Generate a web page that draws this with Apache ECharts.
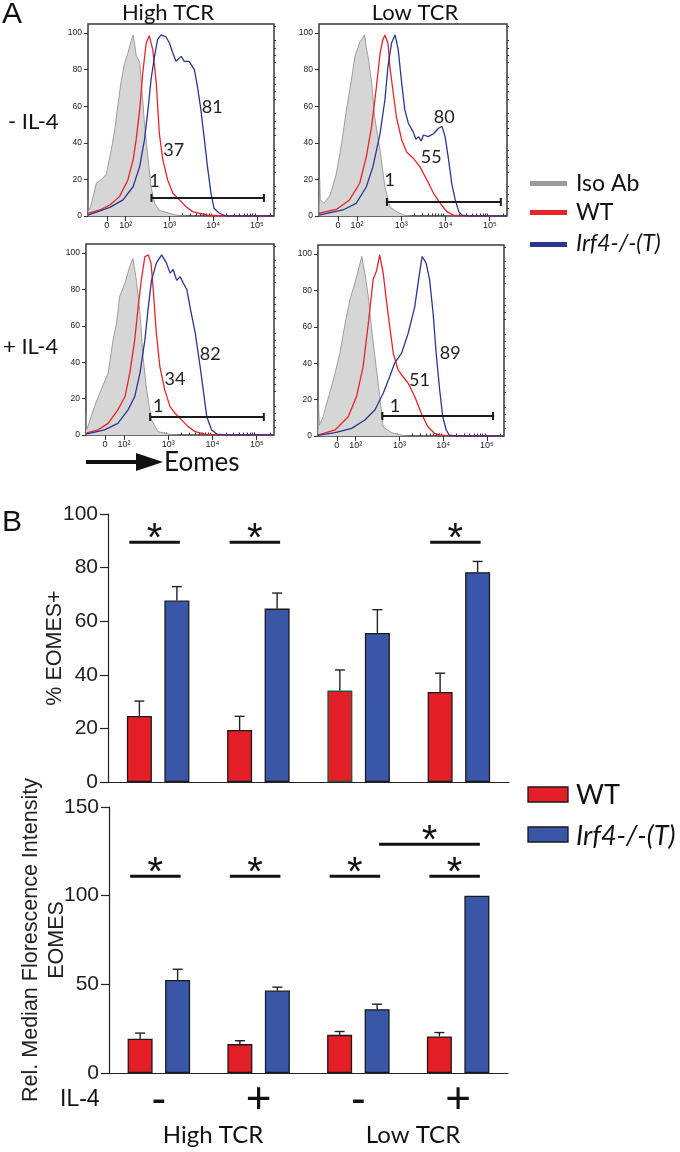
<!DOCTYPE html>
<html>
<head>
<meta charset="utf-8">
<script src="https://cdn.jsdelivr.net/npm/echarts@6/dist/echarts.min.js"></script>
<style>html,body{margin:0;background:#fff}#main{width:680px;height:1152px}</style>
</head>
<body>
<div id="main"></div>
<script>
var chartDom = document.getElementById('main');
var myChart = echarts.init(chartDom);

// ---- Panel A: Eomes histograms, x = display position in decades (0 at 1.57), y = % of max
var isoHighMinus = [[1.14,9],[1.15,3],[1.2,5],[1.27,12],[1.33,18],[1.45,20],[1.56,23],[1.67,36],[1.75,47],[1.83,62],[1.9,74],[1.98,84],[2.05,89],[2.13,96],[2.17,99],[2.2,95],[2.24,88],[2.32,84],[2.36,73],[2.43,51],[2.51,32],[2.58,16],[2.66,7],[2.77,3],[3.0,1.5],[3.2,0.3],[3.4,0]];
var wtHighMinus = [[1.14,1.5],[1.41,3.3],[1.64,6],[1.86,10.6],[2.05,19.7],[2.17,30.7],[2.24,41.6],[2.32,58],[2.39,78],[2.47,94.6],[2.54,98.6],[2.62,91],[2.7,72.7],[2.77,45],[2.85,30.7],[2.96,19.7],[3.08,12.4],[3.23,8.8],[3.38,5.1],[3.53,2.4],[3.68,1.5],[3.91,0.4],[4.2,0],[5.39,0]];
var koHighMinus = [[1.14,0.5],[1.64,4.7],[1.94,8.8],[2.17,16],[2.32,27],[2.43,41.6],[2.51,58],[2.58,74.5],[2.66,87.3],[2.73,96.4],[2.81,99],[2.92,98],[3.0,94.6],[3.08,89],[3.15,84.6],[3.27,87.3],[3.34,84.6],[3.45,84.6],[3.57,80],[3.64,71],[3.72,58],[3.8,41.6],[3.87,27],[3.95,12.4],[4.02,4.2],[4.14,1.5],[4.3,0],[5.39,0]];

var isoLowMinus = [[1.14,2],[1.155,20],[1.17,9],[1.25,7],[1.38,11],[1.45,16],[1.53,23],[1.64,38],[1.76,58],[1.87,74],[1.95,87],[2.06,95],[2.12,97],[2.17,99],[2.21,92],[2.25,87],[2.33,73],[2.4,54],[2.52,36],[2.63,16],[2.74,5],[2.89,2.4],[3.05,0.5],[3.2,0]];
var wtLowMinus = [[1.14,1.5],[1.53,3.6],[1.83,8.8],[2.06,17.9],[2.21,32.5],[2.33,49],[2.44,71],[2.52,89],[2.58,96],[2.63,99],[2.7,94.5],[2.74,82],[2.82,67],[2.89,54],[3.01,41.6],[3.12,35],[3.27,31.6],[3.42,27],[3.58,19.7],[3.73,12.4],[3.88,6.9],[4.03,2.4],[4.18,0.5],[4.4,0],[5.39,0]];
var koLowMinus = [[1.14,0.5],[1.68,3.3],[1.98,6.9],[2.21,16],[2.36,27],[2.52,45],[2.63,63.5],[2.7,82],[2.78,94.6],[2.86,99],[2.93,91],[3.01,72.6],[3.08,58],[3.16,50.7],[3.27,46],[3.33,42],[3.39,43.4],[3.45,41],[3.5,44.3],[3.61,43.4],[3.73,45],[3.84,48],[3.92,49],[3.99,43.4],[4.07,30.7],[4.14,17.9],[4.22,8.8],[4.3,2.4],[4.37,0.5],[4.5,0],[5.39,0]];

var isoHighPlus = [[1.14,12],[1.16,3],[1.2,6],[1.33,15.6],[1.45,23],[1.64,34],[1.75,52],[1.83,61.5],[1.9,76],[2.02,83.5],[2.13,92.7],[2.2,97],[2.28,85],[2.36,67],[2.43,43],[2.51,24.8],[2.62,8.3],[2.77,1.8],[3.0,0.5],[3.2,0]];
var wtHighPlus = [[1.14,1],[1.41,2.8],[1.64,6.4],[1.86,13.8],[2.02,21],[2.13,34],[2.24,52],[2.32,70.6],[2.39,85],[2.47,98],[2.55,99],[2.61,94.5],[2.66,80],[2.73,56],[2.81,37.6],[2.92,24.8],[3.04,15.6],[3.15,12],[3.3,8.3],[3.45,4.6],[3.61,1.8],[3.83,0.5],[4.1,0],[5.39,0]];
var koHighPlus = [[1.14,0.5],[1.56,2.8],[1.86,6.4],[2.09,13.8],[2.24,21],[2.36,34],[2.47,52],[2.55,70.6],[2.62,85],[2.73,94.5],[2.85,99],[2.96,94.5],[3.04,89],[3.11,91],[3.19,85],[3.27,87],[3.34,83.5],[3.42,80],[3.49,70.6],[3.61,56],[3.72,37.6],[3.8,23],[3.87,10],[3.98,2.8],[4.1,0.5],[4.3,0],[5.39,0]];

var isoLowPlus = [[1.14,3],[1.15,19],[1.17,6],[1.25,10],[1.34,18],[1.49,30.8],[1.64,45.5],[1.76,62],[1.87,75],[1.98,84],[2.06,91],[2.14,98.7],[2.21,89.5],[2.29,76.7],[2.36,60],[2.44,43.7],[2.55,21.7],[2.63,5],[2.82,1.8],[3.05,0.5],[3.2,0]];
var wtLowPlus = [[1.14,0.5],[1.53,3.3],[1.83,10.6],[2.02,21.7],[2.17,38],[2.29,62],[2.4,86],[2.48,91],[2.55,99.6],[2.63,89.5],[2.7,75],[2.78,60],[2.86,45.5],[2.97,36.3],[3.08,32.7],[3.2,29],[3.35,21.7],[3.5,12.5],[3.65,5.1],[3.8,1.5],[3.95,0.4],[4.2,0],[5.39,0]];
var koLowPlus = [[1.14,0.4],[1.53,1.8],[1.91,4.2],[2.21,8.8],[2.44,14.3],[2.63,23.5],[2.78,32.7],[2.89,40],[3.05,45.5],[3.2,56.5],[3.35,71],[3.46,89.5],[3.52,98.7],[3.61,95],[3.69,86],[3.77,67.5],[3.84,45.5],[3.92,25.3],[3.99,10.6],[4.07,3.3],[4.14,0.5],[4.3,0],[5.39,0]];

// gates [from, to, height] and percentages [x, y, value]
var gateHighMinus = [2.59, 5.16, 9.9];
var gateLowMinus = [2.675, 5.25, 7.7];
var gateHighPlus = [2.59, 5.16, 9.9];
var gateLowPlus = [2.61, 5.14, 11];
var pctHighMinus = [[3.98, 59.6, 81], [3.10, 35.8, 37], [2.66, 19.3, 1]];
var pctLowMinus = [[3.97, 54.2, 80], [3.675, 32.2, 55], [2.74, 19.7, 1]];
var pctHighPlus = [[3.95, 44.6, 82], [3.15, 30.6, 34], [2.77, 15.6, 1]];
var pctLowPlus = [[4.16, 45.6, 89], [3.46, 30.9, 51], [2.90, 16.5, 1]];

var xTickValues = [1.57, 2, 3, 4, 5];
var xTickLabels = ['0', '10²', '10³', '10⁴', '10⁵'];

// ---- Panel B: bar charts
var il4 = ['-', '+', '-', '+'];
var pctWT = [24.6, 19.4, 34.1, 33.6];
var pctWTErr = [5.6, 5.1, 7.7, 7.0];
var pctKO = [67.7, 64.7, 55.6, 78.3];
var pctKOErr = [5.2, 5.8, 8.7, 4.0];
var mfiWT = [19.3, 16.3, 21.5, 20.6];
var mfiWTErr = [3.2, 1.9, 1.9, 2.2];
var mfiKO = [52.5, 46.5, 36, 100];
var mfiKOErr = [6, 1.9, 2.8, 0];
// significance: [category A, bar A (0 WT, 1 KO), category B, bar B, height]
var pctSig = [[0, 0, 0, 1, 89.5], [1, 0, 1, 1, 89.5], [3, 0, 3, 1, 89.5]];
var mfiSig = [[0, 0, 0, 1, 111], [1, 0, 1, 1, 111], [2, 0, 2, 1, 111], [3, 0, 3, 1, 111], [2, 1, 3, 1, 129]];

var RED = '#e31e26', BLUE = '#3a56a6', HRED = '#e8232a', HBLUE = '#2b3690';
var BAR_W = 25, BAR_GAP = 0.5, BAR_OFF = BAR_W * (1 + BAR_GAP) / 2;
var SANS = 'Liberation Sans', MYR = 'Lato';

var histGrids = [
    {left: 88, top: 24, width: 186, height: 192},
    {left: 319, top: 24, width: 188, height: 192},
    {left: 86, top: 244, width: 188, height: 191},
    {left: 318, top: 245, width: 186, height: 191}
];
var histPanels = [
    {iso: isoHighMinus, wt: wtHighMinus, ko: koHighMinus, gate: gateHighMinus, pct: pctHighMinus},
    {iso: isoLowMinus, wt: wtLowMinus, ko: koLowMinus, gate: gateLowMinus, pct: pctLowMinus},
    {iso: isoHighPlus, wt: wtHighPlus, ko: koHighPlus, gate: gateHighPlus, pct: pctHighPlus},
    {iso: isoLowPlus, wt: wtLowPlus, ko: koLowPlus, gate: gateLowPlus, pct: pctLowPlus}
];

// minor tick positions on the logicle-like axis
var xMinor = [];
for (var m = 1; m <= 9; m++) { xMinor.push(1.57 + 0.043 * m, 1.57 - 0.043 * m); }
for (var k = 2; k <= 4; k++) { for (var j = 2; j <= 9; j++) xMinor.push(k + Math.log10(j)); }
xMinor.push(5 + Math.log10(2));
var yMinor = [];
for (var t = 4; t <= 104; t += 4) { if (t % 20) yMinor.push(t); }

var grids = [], xAxes = [], yAxes = [], series = [];

histGrids.forEach(function (g, i) {
    grids.push(Object.assign({show: true, borderColor: '#3a3a3a', borderWidth: 1.5, backgroundColor: 'transparent'}, g));
    xAxes.push({
        type: 'value', gridIndex: i, min: 1.14, max: 5.39,
        axisLine: {show: false}, splitLine: {show: false},
        axisTick: {show: true, length: 5, customValues: xTickValues, lineStyle: {color: '#333'}},
        axisLabel: {customValues: xTickValues, margin: 5, fontSize: 9, color: '#222', fontFamily: SANS,
            formatter: function (v) { return xTickLabels[xTickValues.indexOf(v)]; }}
    });
    xAxes.push({
        type: 'value', gridIndex: i, min: 1.14, max: 5.39,
        axisLine: {show: false}, splitLine: {show: false}, axisLabel: {show: false},
        axisTick: {show: true, length: 2.5, customValues: xMinor, lineStyle: {color: '#333'}}
    });
    yAxes.push({
        type: 'value', gridIndex: i, min: 0, max: 105,
        axisLine: {show: false}, splitLine: {show: false},
        axisTick: {show: true, length: 4, customValues: [0, 20, 40, 60, 80, 100], lineStyle: {color: '#333'}},
        axisLabel: {customValues: [0, 20, 40, 60, 80, 100], margin: 6, fontSize: 8.5, color: '#222', fontFamily: SANS}
    });
    yAxes.push({
        type: 'value', gridIndex: i, min: 0, max: 105,
        axisLine: {show: false}, splitLine: {show: false}, axisLabel: {show: false},
        axisTick: {show: true, length: 2, customValues: yMinor, lineStyle: {color: '#333'}}
    });
});

function gateItem(params, api) {
    var y = api.value(2);
    var a = api.coord([api.value(0), y]);
    var b = api.coord([api.value(1), y]);
    var st = {stroke: '#1a1a1a', lineWidth: 2};
    return {type: 'group', children: [
        {type: 'line', shape: {x1: a[0], y1: a[1], x2: b[0], y2: b[1]}, style: st},
        {type: 'line', shape: {x1: a[0], y1: a[1] - 4, x2: a[0], y2: a[1] + 4}, style: st},
        {type: 'line', shape: {x1: b[0], y1: b[1] - 4, x2: b[0], y2: b[1] + 4}, style: st}
    ]};
}
function pctItem(params, api) {
    var c = api.coord([api.value(0), api.value(1)]);
    return {type: 'text', x: c[0], y: c[1], style: {text: String(api.value(2)), fontSize: 18,
        fontFamily: MYR, fill: '#222', align: 'center', verticalAlign: 'middle'}};
}

histPanels.forEach(function (p, i) {
    var ax = {xAxisIndex: 2 * i, yAxisIndex: 2 * i};
    series.push(Object.assign({type: 'line', name: 'Iso Ab', data: p.iso, symbol: 'none',
        lineStyle: {color: '#8a8a8a', width: 0.8}, areaStyle: {color: '#d6d6d6', opacity: 1}}, ax));
    series.push(Object.assign({type: 'line', name: 'WT', data: p.wt, symbol: 'none',
        lineStyle: {color: HRED, width: 1.3}}, ax));
    series.push(Object.assign({type: 'line', name: 'Irf4-/-(T)', data: p.ko, symbol: 'none',
        lineStyle: {color: HBLUE, width: 1.3}}, ax));
    series.push(Object.assign({type: 'custom', renderItem: gateItem, data: [p.gate],
        encode: {x: [0, 1], y: 2}, z: 5}, ax));
    series.push(Object.assign({type: 'custom', renderItem: pctItem, data: p.pct,
        encode: {x: 0, y: 1}, z: 5}, ax));
});

// ---- bar charts
grids.push({left: 108, top: 514, width: 401, height: 268});
grids.push({left: 109, top: 807, width: 399, height: 266});

[{max: 100, interval: 20, name: '% EOMES+', gap: 39.5, lab: false},
 {max: 150, interval: 50, name: 'Rel. Median Florescence Intensity\nEOMES', gap: 39, lab: true}
].forEach(function (c, n) {
    xAxes.push({
        type: 'category', gridIndex: 4 + n, data: il4,
        axisLine: {lineStyle: {color: '#222', width: 1.2}},
        axisTick: {alignWithLabel: true, length: 6, lineStyle: {color: '#222', width: 1.2}},
        axisLabel: {show: c.lab, fontSize: 44, color: '#111', fontFamily: SANS, margin: 28, verticalAlign: 'middle'}
    });
    yAxes.push({
        type: 'value', gridIndex: 4 + n, min: 0, max: c.max, interval: c.interval,
        name: c.name, nameLocation: 'middle', nameRotate: 90, nameGap: c.gap, nameMoveOverlap: false,
        nameTextStyle: {fontSize: 21.5, color: '#222', fontFamily: SANS, lineHeight: 26},
        axisLine: {show: true, lineStyle: {color: '#222', width: 1.2}},
        axisTick: {show: true, length: 8, lineStyle: {color: '#222', width: 1.2}},
        splitLine: {show: false},
        axisLabel: {fontSize: 21, color: '#222', fontFamily: SANS, margin: 10}
    });
});

function errItem(off) {
    return function (params, api) {
        if (api.value(2) <= api.value(1)) return null;
        var c = api.coord([api.value(0), api.value(1)]);
        var t = api.coord([api.value(0), api.value(2)]);
        var x = c[0] + off;
        var st = {stroke: '#222', lineWidth: 1.4};
        return {type: 'group', children: [
            {type: 'line', shape: {x1: x, y1: c[1], x2: x, y2: t[1]}, style: st},
            {type: 'line', shape: {x1: x - 5, y1: t[1], x2: x + 5, y2: t[1]}, style: st}
        ]};
    };
}
function sigItem(params, api) {
    var y = api.value(4);
    var a = api.coord([api.value(0), y]);
    var b = api.coord([api.value(2), y]);
    var x1 = a[0] + (api.value(1) === 0 ? -BAR_OFF - 10 : BAR_OFF + 2);
    var x2 = b[0] + BAR_OFF + 3;
    return {type: 'group', children: [
        {type: 'line', shape: {x1: x1, y1: a[1], x2: x2, y2: a[1]}, style: {stroke: '#111', lineWidth: 3}},
        {type: 'text', x: (x1 + x2) / 2, y: a[1] - 2, style: {text: '*', fontSize: 40, fontFamily: SANS,
            fill: '#111', align: 'center', verticalAlign: 'middle'}}
    ]};
}

var wtBorderTop = ['#1a1a1a', '#1a1a1a', '#1f5a36', '#1a1a1a'];
[{wt: pctWT, wtE: pctWTErr, ko: pctKO, koE: pctKOErr, sig: pctSig, border: wtBorderTop},
 {wt: mfiWT, wtE: mfiWTErr, ko: mfiKO, koE: mfiKOErr, sig: mfiSig, border: null}
].forEach(function (c, n) {
    var ax = {xAxisIndex: 8 + n, yAxisIndex: 8 + n};
    series.push(Object.assign({type: 'bar', name: 'WT', barWidth: BAR_W, barGap: '50%',
        itemStyle: {color: RED, borderColor: '#1a1a1a', borderWidth: 1.3},
        data: c.wt.map(function (v, i) {
            return {value: v, itemStyle: {borderColor: c.border ? c.border[i] : '#1a1a1a'}};
        })}, ax));
    series.push(Object.assign({type: 'bar', name: 'Irf4-/-(T)', barWidth: BAR_W, barGap: '50%',
        itemStyle: {color: BLUE, borderColor: '#1a1a1a', borderWidth: 1.3}, data: c.ko}, ax));
    series.push(Object.assign({type: 'custom', renderItem: errItem(-BAR_OFF), encode: {x: 0, y: [1, 2]},
        data: c.wt.map(function (v, i) { return [i, v, v + c.wtE[i]]; })}, ax));
    series.push(Object.assign({type: 'custom', renderItem: errItem(BAR_OFF), encode: {x: 0, y: [1, 2]},
        data: c.ko.map(function (v, i) { return [i, v, v + c.koE[i]]; })}, ax));
    series.push(Object.assign({type: 'custom', renderItem: sigItem, encode: {x: [0, 2], y: 4},
        data: c.sig}, ax));
});

function txt(x, y, s, size, opt) {
    return {type: 'text', x: x, y: y, style: Object.assign({text: s, fontSize: size, fontFamily: MYR,
        fill: '#111', align: 'left', verticalAlign: 'middle'}, opt || {})};
}

var graphic = [
    txt(2, 15, 'A', 30, {fontFamily: SANS}),
    txt(2, 523, 'B', 30, {fontFamily: SANS}),
    txt(168, 13, 'High TCR', 22, {align: 'center'}),
    txt(415, 13, 'Low TCR', 22, {align: 'center'}),
    txt(8, 122, '- IL-4', 22),
    txt(3, 347, '+ IL-4', 22),
    {type: 'line', shape: {x1: 86, y1: 462, x2: 140, y2: 462}, style: {stroke: '#111', lineWidth: 4}},
    {type: 'polygon', shape: {points: [[136, 453], [163, 462], [136, 471]]}, style: {fill: '#111'}},
    txt(164, 463, 'Eomes', 26),
    {type: 'rect', shape: {x: 530, y: 181, width: 37, height: 5}, style: {fill: '#9a9a9a'}},
    {type: 'rect', shape: {x: 530, y: 210, width: 37, height: 5}, style: {fill: HRED}},
    {type: 'rect', shape: {x: 530, y: 242, width: 37, height: 5}, style: {fill: HBLUE}},
    txt(576, 184, 'Iso Ab', 23),
    txt(576, 213, 'WT', 23),
    txt(576, 244, 'Irf4-/-(T)', 23, {fontStyle: 'italic'}),
    {type: 'rect', shape: {x: 528, y: 787, width: 40, height: 15}, style: {fill: RED, stroke: '#1a1a1a', lineWidth: 1.3}},
    {type: 'rect', shape: {x: 528, y: 827, width: 40, height: 15}, style: {fill: BLUE, stroke: '#1a1a1a', lineWidth: 1.3}},
    txt(576, 795, 'WT', 27),
    txt(576, 836, 'Irf4-/-(T)', 27, {fontStyle: 'italic'}),
    txt(60, 1100, 'IL-4', 23, {fontFamily: SANS}),
    txt(213, 1135, 'High TCR', 24, {align: 'center'}),
    txt(413, 1135, 'Low TCR', 24, {align: 'center'})
];

var option = {
    animation: false,
    backgroundColor: '#fff',
    textStyle: {fontFamily: SANS},
    grid: grids,
    xAxis: xAxes,
    yAxis: yAxes,
    series: series,
    graphic: graphic
};

option && myChart.setOption(option);
</script>
</body>
</html>
